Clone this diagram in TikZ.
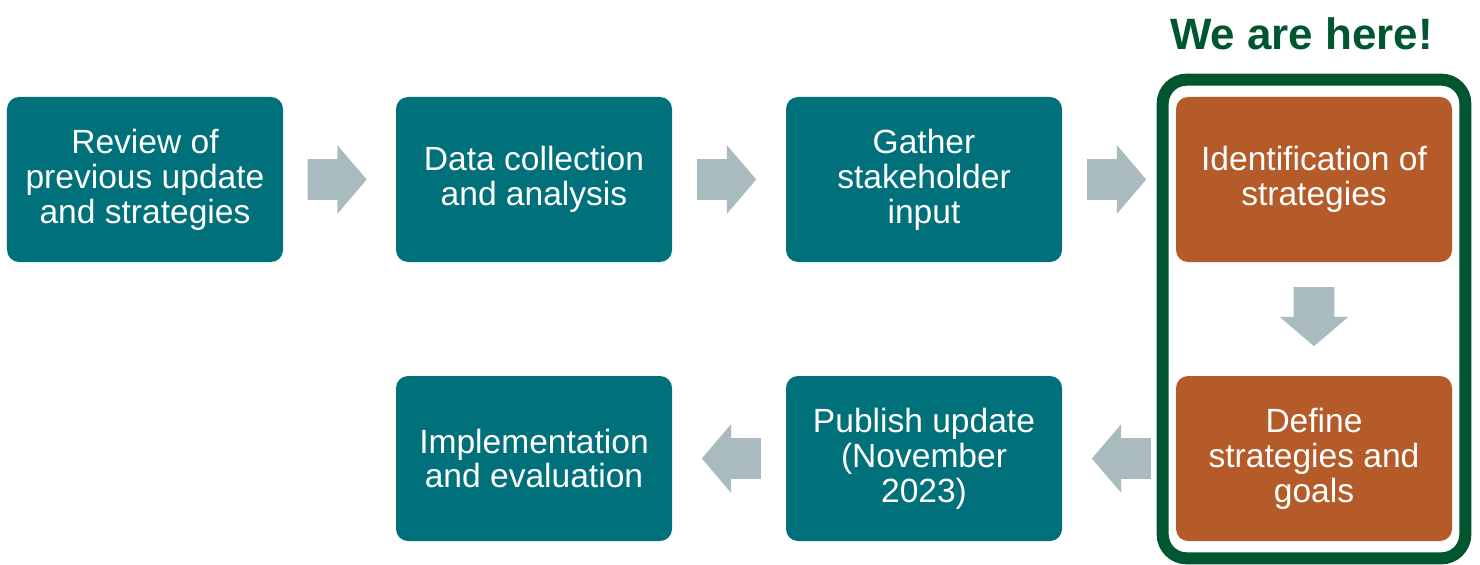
\documentclass[tikz,border=0pt]{standalone}
\usepackage{fontspec}
\setmainfont{Liberation Sans}
\usetikzlibrary{shapes.arrows,calc,fit}

\definecolor{bleucanard}{RGB}{0,112,122}
\definecolor{rouille}{RGB}{181,90,41}
\definecolor{vertfonce}{RGB}{0,86,47}
\definecolor{grisfleche}{RGB}{169,187,190}

\tikzset{
	etape/.style={rectangle,rounded corners=0.24cm,fill=bleucanard,text=white,minimum width=5.52cm,minimum height=3.3cm,inner sep=0pt,align=center,font=\fontsize{19.1}{19.9}\selectfont},
	etape active/.style={etape,fill=rouille},
	fleche/.style={single arrow,fill=grisfleche,minimum height=1.18cm,inner xsep=0pt,inner ysep=0.4cm,single arrow head extend=0.28cm,single arrow tip angle=99},
	cadre/.style={rectangle,draw=vertfonce,line width=0.24cm,rounded corners=0.48cm,inner xsep=0.26cm,inner ysep=0.34cm},
}

\begin{document}
\begin{tikzpicture}
		\useasboundingbox (0,0) rectangle (29.6,11.28);
		%\node (nom node) at(x,y) [style] {texte} ;
		\node (etape 1) at(2.9,7.69) [etape] {Review of\\previous update\\and strategies} ;
		\node (etape 2) at(10.68,7.69) [etape] {Data collection\\and analysis} ;
		\node (etape 3) at(18.48,7.69) [etape] {Gather\\stakeholder\\input} ;
		\node (etape 4) at(26.28,7.69) [etape active] {Identification of\\strategies} ;
		\node (etape 5) at(26.28,2.11) [etape active] {Define\\strategies and\\goals} ;
		\node (etape 6) at(18.48,2.11) [etape] {Publish update\\(November\\2023)} ;
		\node (etape 7) at(10.68,2.11) [etape] {Implementation\\and evaluation} ;

%le cadre vert autour des etapes en cours
		\node (encadre) [cadre,fit=(etape 4)(etape 5)] {} ;
		\node (ici) at(26.03,10.28) [anchor=base,text=vertfonce,font=\fontsize{25}{30}\selectfont\bfseries] {We are here!} ;

%fleches entre deux etapes: au milieu des deux nodes (le centre du node n'est pas au milieu de la fleche)
		\node (fleche 1) at($(etape 1.east)!0.5!(etape 2.west)+(-0.22,0)$) [fleche] {} ;
		\node (fleche 2) at($(etape 2.east)!0.5!(etape 3.west)+(-0.22,0)$) [fleche] {} ;
		\node (fleche 3) at($(etape 3.east)!0.5!(etape 4.west)+(-0.22,0)$) [fleche] {} ;
		\node (fleche 4) at($(etape 4.south)!0.5!(etape 5.north)+(0,0.22)$) [fleche,rotate=-90] {} ;
		\node (fleche 5) at($(etape 5.west)!0.5!(etape 6.east)+(0.22,0)$) [fleche,rotate=180] {} ;
		\node (fleche 6) at($(etape 6.west)!0.5!(etape 7.east)+(0.22,0)$) [fleche,rotate=180] {} ;
	\end{tikzpicture}
\end{document}
